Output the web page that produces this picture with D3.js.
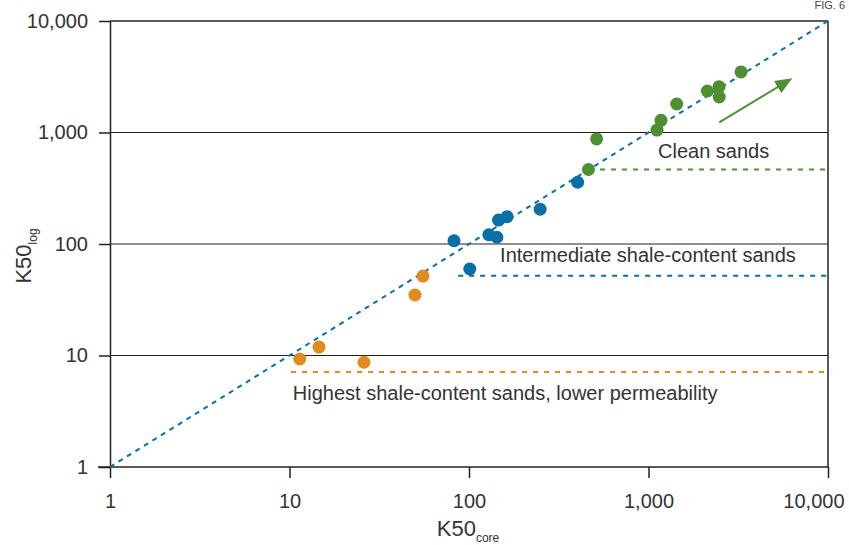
<!DOCTYPE html>
<html><head><meta charset="utf-8">
<script src="https://cdn.jsdelivr.net/npm/d3@7"></script>
<style>
body{margin:0;background:#fff;}
svg{display:block;font-family:"Liberation Sans",Arial,sans-serif;}
</style></head><body>
<svg id="c" width="849" height="545"></svg>
<script>
const tickValues = [1, 10, 100, 1000, 10000];
const tickLabels = ["1", "10", "100", "1,000", "10,000"];

const orangeX = [11.4, 14.6, 26, 50, 55.4];
const orangeY = [9.3, 11.9, 8.7, 34.9, 51.6];
const blueX = [82.5, 101, 129, 143, 146, 163, 249, 403];
const blueY = [107, 59.7, 121, 115, 164, 176, 205, 358];
const greenX = [463, 514, 1115, 1174, 1436, 2128, 2472, 2478, 3276];
const greenY = [466, 875, 1052, 1286, 1802, 2356, 2576, 2081, 3491];

const groupNames = ["Highest shale-content sands, lower permeability", "Intermediate shale-content sands", "Clean sands"];
const groupLevelY = [7.1, 52, 466];
const groupLevelStartX = [10.2, 87, 537];
const groupLabelX = [10.44, 149, 1130];
const groupLabelY = [4.0, 69, 587];

const arrowFrom = [2478, 1234];
const arrowTo = [6325, 3062];

const colors = {orange: "#e08b1f", blue: "#0a6fa6", green: "#4e9030"};
const groupColors = [colors.orange, colors.blue, colors.green];

const svg = d3.select("#c");
const x = d3.scaleLog().domain([1, 10000]).range([110, 828]);
const y = d3.scaleLog().domain([1, 10000]).range([467, 21]);

// gridlines
svg.append("g").selectAll("line").data([10, 100, 1000]).join("line")
  .attr("x1", x(1)).attr("x2", x(10000))
  .attr("y1", d => y(d)).attr("y2", d => y(d))
  .attr("stroke", "#222").attr("stroke-width", 1);
// top & right frame
svg.append("line").attr("x1", x(1)).attr("x2", x(10000)).attr("y1", y(10000)).attr("y2", y(10000)).attr("stroke", "#222").attr("stroke-width", 1.5);
svg.append("line").attr("x1", x(10000)).attr("x2", x(10000)).attr("y1", y(10000)).attr("y2", y(1)).attr("stroke", "#222").attr("stroke-width", 1.5);

// axes
const xAxis = svg.append("g").attr("transform", `translate(0,${y(1)})`)
  .call(d3.axisBottom(x).tickValues(tickValues).tickFormat((d, i) => tickLabels[i]).tickSize(11).tickSizeOuter(0).tickPadding(16));
const yAxis = svg.append("g").attr("transform", `translate(${x(1)},0)`)
  .call(d3.axisLeft(y).tickValues(tickValues).tickFormat((d, i) => tickLabels[i]).tickSize(11).tickSizeOuter(0).tickPadding(11));
[xAxis, yAxis].forEach(a => {
  a.select(".domain").attr("stroke", "#222").attr("stroke-width", 1.5);
  a.selectAll(".tick line").attr("stroke", "#222").attr("stroke-width", 1.5);
  a.selectAll("text").attr("font-size", 20).attr("fill", "#333").attr("font-family", "Liberation Sans, Arial, sans-serif");
});
// last x label kept inside the picture
xAxis.selectAll(".tick").filter(d => d === 10000).select("text").attr("text-anchor", "end").attr("x", 16);
xAxis.select(".domain").attr("d", `M${x(1) - 12},0H${x(10000)}`);

// 1:1 line
svg.append("line").attr("x1", x(1)).attr("y1", y(1)).attr("x2", x(10000)).attr("y2", y(10000))
  .attr("stroke", colors.blue).attr("stroke-width", 2).attr("stroke-dasharray", "5,5");

// group level dashed lines and labels
groupNames.forEach((n, i) => {
  svg.append("line").attr("x1", x(groupLevelStartX[i])).attr("x2", x(10000))
    .attr("y1", y(groupLevelY[i])).attr("y2", y(groupLevelY[i]))
    .attr("stroke", groupColors[i]).attr("stroke-width", 2).attr("stroke-dasharray", "5,6");
  svg.append("text").attr("x", x(groupLabelX[i])).attr("y", y(groupLabelY[i]))
    .attr("font-size", 20).attr("fill", "#333").text(n);
});

// points
const sets = [[orangeX, orangeY, colors.orange], [blueX, blueY, colors.blue], [greenX, greenY, colors.green]];
sets.forEach(([xs, ys, col]) => {
  svg.append("g").selectAll("circle").data(xs.map((v, i) => [v, ys[i]])).join("circle")
    .attr("cx", d => x(d[0])).attr("cy", d => y(d[1])).attr("r", 6.5).attr("fill", col);
});

// arrow
const ax1 = x(arrowFrom[0]), ay1 = y(arrowFrom[1]), ax2 = x(arrowTo[0]), ay2 = y(arrowTo[1]);
svg.append("line").attr("x1", ax1).attr("y1", ay1).attr("x2", ax2 - (ax2 - ax1) * 0.1).attr("y2", ay2 - (ay2 - ay1) * 0.1)
  .attr("stroke", colors.green).attr("stroke-width", 2);
const ang = Math.atan2(ay2 - ay1, ax2 - ax1);
const hl = 17, hw = 7;
svg.append("path").attr("d", `M${ax2},${ay2}L${ax2 - hl * Math.cos(ang) + hw * Math.sin(ang)},${ay2 - hl * Math.sin(ang) - hw * Math.cos(ang)}L${ax2 - hl * Math.cos(ang) - hw * Math.sin(ang)},${ay2 - hl * Math.sin(ang) + hw * Math.cos(ang)}Z`)
  .attr("fill", colors.green);

// axis titles
const xt = svg.append("text").attr("x", 468).attr("y", 536).attr("text-anchor", "middle").attr("font-size", 22).attr("fill", "#333");
xt.append("tspan").text("K50");
xt.append("tspan").attr("font-size", 12).attr("dy", 6).text("core");
const yt = svg.append("text").attr("transform", "translate(31,256) rotate(-90)").attr("text-anchor", "middle").attr("font-size", 22).attr("fill", "#333");
yt.append("tspan").text("K50");
yt.append("tspan").attr("font-size", 12).attr("dy", 6).text("log");

// figure number (small, at the top-right edge)
svg.append("text").attr("x", 845).attr("y", 9).attr("text-anchor", "end").attr("font-size", 11).attr("fill", "#444").text("FIG. 6");
</script>
</body></html>
